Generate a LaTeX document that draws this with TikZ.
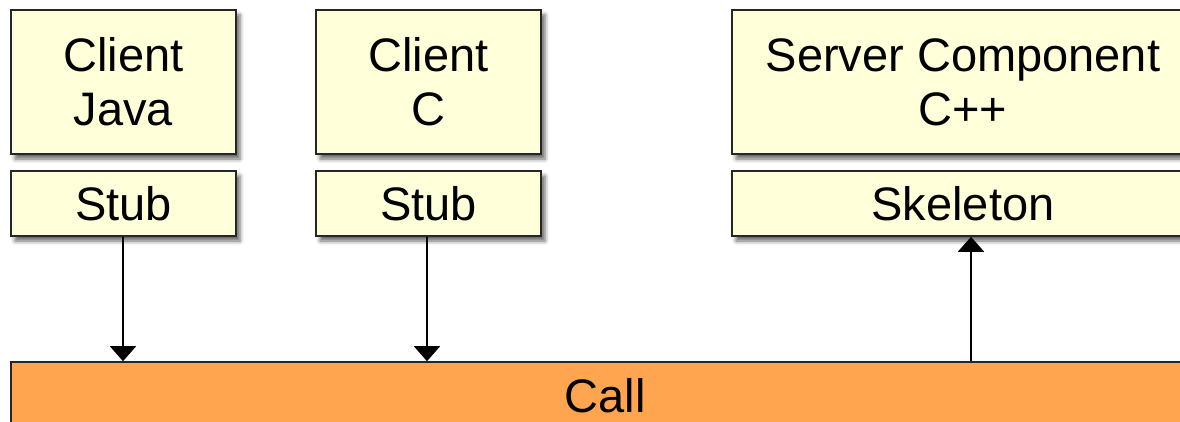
\documentclass[tikz,border=0pt]{standalone}
\usepackage{fontspec}
\setmainfont{Liberation Sans}
\usetikzlibrary{arrows.meta,shadows.blur}
\definecolor{boxfill}{RGB}{255,255,217}
\definecolor{callfill}{RGB}{255,165,79}
\begin{document}
\begin{tikzpicture}[x=1pt,y=-1pt,
  box/.style={draw=black!85,line width=1.6pt,fill=boxfill,align=center,inner sep=0pt,
    font=\fontsize{47}{54}\selectfont,
    blur shadow={shadow xshift=4pt,shadow yshift=-5pt,shadow blur radius=4pt,shadow opacity=60}},
  callbox/.style={draw=black!85,line width=1.6pt,fill=callfill,inner sep=0pt,
    font=\fontsize{47}{54}\selectfont},
  arr/.style={line width=2pt,-{Triangle[width=26pt,length=15pt]}}]
\useasboundingbox (0,0) rectangle (1180,422);
\clip (0,0) rectangle (1180,422);
\node[box,minimum width=225pt,minimum height=144pt] (cj) at (123.5,82) {Client\\Java};
\node[box,minimum width=225pt,minimum height=65pt] (sj) at (123.5,203.5) {Stub};
\node[box,minimum width=225pt,minimum height=144pt] (cc) at (428.5,82) {Client\\C};
\node[box,minimum width=225pt,minimum height=65pt] (sc) at (428.5,203.5) {Stub};
\node[box,minimum width=462pt,minimum height=144pt] (sv) at (963,82) {Server Component\\C++};
\node[box,minimum width=462pt,minimum height=65pt] (sk) at (963,203.5) {Skeleton};
\node[callbox,minimum width=1188pt,minimum height=68pt] (call) at (605,396) {Call};
\draw[arr] ([xshift=-0.5pt]sj.south) -- ([xshift=-0.5pt]sj.south |- call.north);
\draw[arr] ([xshift=-1.5pt]sc.south) -- ([xshift=-1.5pt]sc.south |- call.north);
\draw[arr] ([xshift=8pt]sk.south |- call.north) -- ([xshift=8pt]sk.south);
\end{tikzpicture}
\end{document}
